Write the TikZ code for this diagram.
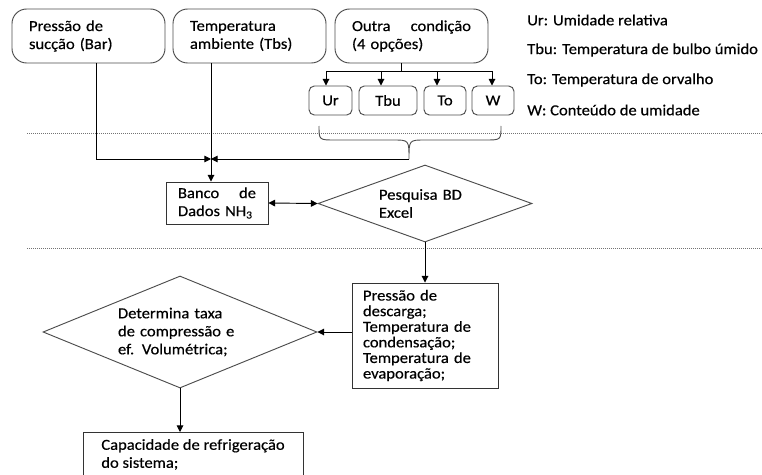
\documentclass[tikz,border=0pt]{standalone}
\usepackage{fontspec}
\setmainfont{Carlito}[FakeStretch=1.08,FakeBold=0.4]
\usetikzlibrary{arrows.meta,shapes.geometric,positioning}

\begin{document}
\begin{tikzpicture}[x=0.75pt,y=-0.75pt,font=\fontsize{11.5}{13.5}\selectfont]

	\tikzstyle input box=[draw=black!70, rounded corners=11pt, line width=0.7pt, minimum width=114.75pt, minimum height=40.5pt, text width=89.25pt, inner xsep=12.75pt, align=left];
	\tikzstyle option box=[draw=black!70, rounded corners=4pt, line width=0.7pt, minimum height=21.75pt, inner sep=0pt];
	\tikzstyle plain box=[draw=black!80, line width=0.7pt, align=left];
	\tikzstyle decision=[draw=black!70, diamond, line width=0.7pt, inner sep=0pt, align=left];
	\tikzstyle link lines=[line width=0.7pt];
	\tikzstyle flow lines=[line width=0.7pt, -{Triangle[length=5pt,width=5pt]}];
	\tikzstyle both lines=[line width=0.7pt, {Triangle[length=5pt,width=5pt]}-{Triangle[length=5pt,width=5pt]}];
	\tikzstyle section lines=[black!55, line width=0.6pt, dash pattern=on 0.75pt off 0.75pt];
	\tikzstyle legend=[anchor=west, inner sep=0pt];

	\useasboundingbox (0,0) rectangle (762,474);
	\clip (0,0) rectangle (762,474);

	% entradas
	\node[input box] (suc) at (88.5,36) {Pressão de\\sucção (Bar)};
	\node[input box] (amb) at (249.5,36) {Temperatura\\ambiente (Tbs)};
	\node[input box] (outra) at (411.5,36) {Outra\hfill condição\\(4 opções)};

	\foreach \n/\txt/\x/\w in {umid/Ur/330.5/32.25pt,bulbo/Tbu/388/43.5pt,orv/To/445/31.5pt,cont/W/493/31.5pt}
		\node[option box, minimum width=\w] (\n) at (\x,100.5) {\txt};

	\foreach \y/\txt [count=\i] in {20/Ur: Umidade relativa,50/Tbu: Temperatura de bulbo úmido,80/To: Temperatura de orvalho,110/W: Conteúdo de umidade}
		\node[legend] (leg\i) at (527,\y) {\txt};

	% separadores
	\draw[section lines] (27,133) -- (762,133);
	\draw[section lines] (27,248) -- (762,248);

	% banco de dados
	\node[plain box, minimum width=76.5pt, minimum height=31.5pt, text width=58.5pt, inner xsep=9pt] (banco) at (217,203) {Banco\hfill de\\Dados NH\textsubscript{3}};
	\node[decision, aspect=2.78, minimum width=160.5pt, minimum height=57.75pt, text width=69pt] (pesq) at (425,203.5) {Pesquisa BD\\Excel};

	% resultados
	\node[plain box, minimum width=109.5pt, minimum height=78.75pt, text width=93pt, inner xsep=8.25pt, font=\fontsize{11.5}{11.7}\selectfont] (pres) at (425,335.5) {Pressão de\\descarga;\\Temperatura de\\condensação;\\Temperatura de\\evaporação;};
	\node[decision, aspect=2.45, minimum width=205.5pt, minimum height=84pt, text width=93pt] (det) at (180,332) {Determina taxa\\de compressão e\\ef. Volumétrica;};
	\node[plain box, anchor=north, minimum width=165pt, inner ysep=5pt] (cap) at (193,432) {Capacidade de refrigeração\\do sistema;};

	% ligacoes
	\coordinate (split) at (401,71);
	\coordinate (splitL) at (326,71);
	\coordinate (splitR) at (492,71);
	\coordinate (meet) at (211,159);
	\coordinate (tip) at (409,159);

	\draw[link lines] (outra.south -| split) -- (split);
	\draw[link lines] (splitL) -- (splitR);
	\foreach \n/\x in {umid/326,bulbo/381,orv/437,cont/492}
		\draw[flow lines] (\x,71) -- (\n.north -| \x,0);

	\draw[link lines, black!70] (319,126) .. controls (319,140) .. (335,140) -- (393,140) .. controls (409,140) .. (tip) .. controls (409,140) .. (425,140) -- (485,140) .. controls (501,140) .. (501,126);

	\draw[flow lines] (suc.south -| 96,0) |- (meet);
	\draw[flow lines] (tip) -- (meet);
	\draw[flow lines] (amb.south -| meet) -- (banco.north -| meet);

	\draw[both lines] (banco.east) -- (pesq.west);
	\draw[flow lines] (pesq.south) -- (pres.north);
	\draw[flow lines] (pres.west |- det.east) -- (det.east);
	\draw[flow lines] (det.south) -- (det.south |- cap.north);

\end{tikzpicture}
\end{document}
